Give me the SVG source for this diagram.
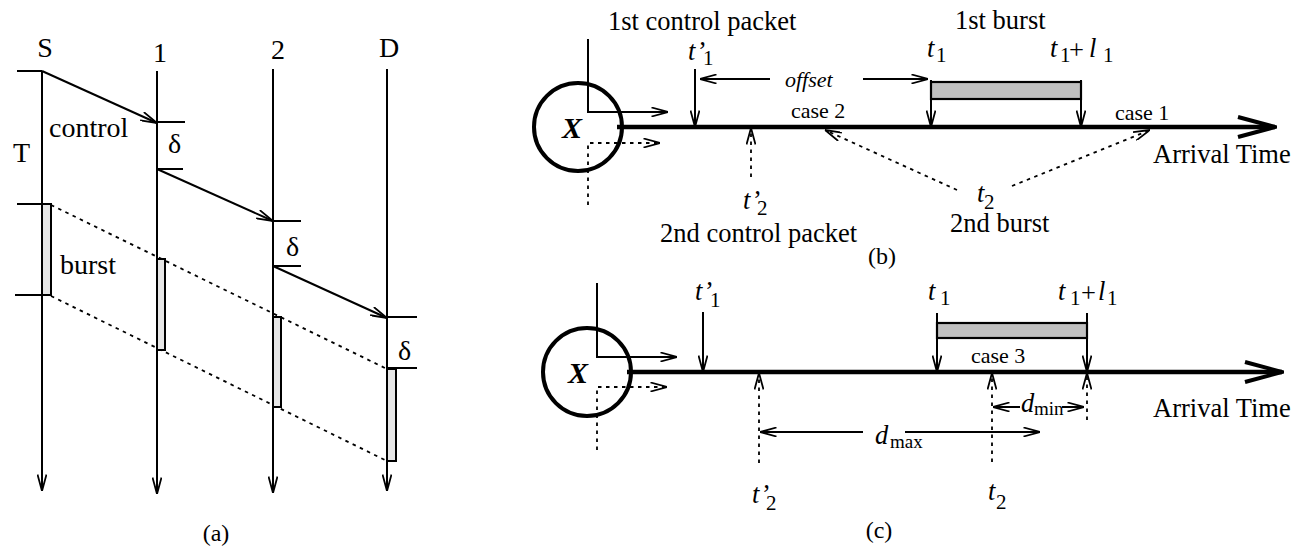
<svg xmlns="http://www.w3.org/2000/svg" width="1300" height="549" viewBox="0 0 1300 549">
<defs>
<style>
text{font-family:"Liberation Serif","Times New Roman",serif;fill:#000}
.a{font-size:28px}
.m{font-size:26.5px}
.s{font-size:22px}
.sub{font-size:21px}
.it{font-style:italic}
.ln{stroke:#000;stroke-width:2;fill:none}
.dot{stroke:#000;stroke-width:1.8;fill:none;stroke-dasharray:3.5 4.5}
.axis{stroke:#000;stroke-width:4.5;fill:none}
.node{stroke:#000;stroke-width:4;fill:none}
.ba{fill:#e6e6e6;stroke:#000;stroke-width:2}
.bb{fill:#c0c0c0;stroke:#000;stroke-width:2.2}
</style>
<marker id="arr" viewBox="0 0 17 10" refX="17" refY="5" markerWidth="17" markerHeight="10" markerUnits="userSpaceOnUse" orient="auto">
<path d="M0.5,0.5 L17,5 L0.5,9.5" fill="none" stroke="#000" stroke-width="1.8"/>
</marker>
<marker id="big" viewBox="0 0 40 24" refX="38" refY="12" markerWidth="40" markerHeight="24" markerUnits="userSpaceOnUse" orient="auto">
<path d="M1,2 L38,12 L1,22" fill="none" stroke="#000" stroke-width="4"/>
</marker>
</defs>

<!-- Part (a) -->
<g id="a-dotted">
<line class="dot" x1="51" y1="205" x2="387" y2="369"/>
<line class="dot" x1="51" y1="296" x2="387" y2="461"/>
</g>
<g id="node-S">
<text class="a" x="45" y="57" text-anchor="middle">S</text>
<line class="ln" x1="42" y1="71" x2="42" y2="491" marker-end="url(#arr)"/>
<line class="ln" x1="17" y1="71" x2="42" y2="71"/>
<line class="ln" x1="17" y1="204" x2="42" y2="204"/>
<line class="ln" x1="15" y1="295" x2="42" y2="295"/>
<rect class="ba" x="42" y="204" width="9" height="91"/>
</g>
<g id="node-1">
<text class="a" x="160" y="62" text-anchor="middle">1</text>
<line class="ln" x1="157" y1="71" x2="157" y2="494" marker-end="url(#arr)"/>
<line class="ln" x1="157" y1="122" x2="185" y2="122"/>
<line class="ln" x1="157" y1="169" x2="183" y2="169"/>
<rect class="ba" x="157" y="259" width="8" height="91"/>
</g>
<g id="node-2">
<text class="a" x="278" y="59" text-anchor="middle">2</text>
<line class="ln" x1="273" y1="69" x2="273" y2="493" marker-end="url(#arr)"/>
<line class="ln" x1="273" y1="221" x2="301" y2="221"/>
<line class="ln" x1="273" y1="266" x2="301" y2="266"/>
<rect class="ba" x="273" y="317" width="8" height="90"/>
</g>
<g id="node-D">
<text class="a" x="389" y="57" text-anchor="middle">D</text>
<line class="ln" x1="387" y1="69" x2="387" y2="491" marker-end="url(#arr)"/>
<line class="ln" x1="387" y1="317" x2="417" y2="317"/>
<line class="ln" x1="387" y1="368" x2="417" y2="368"/>
<rect class="ba" x="387" y="369" width="9" height="92"/>
</g>
<g id="a-connectors">
<line class="ln" x1="42" y1="71" x2="157" y2="123" marker-end="url(#arr)"/>
<line class="ln" x1="157" y1="169" x2="273" y2="221" marker-end="url(#arr)"/>
<line class="ln" x1="273" y1="266" x2="387" y2="318" marker-end="url(#arr)"/>
</g>
<g id="a-labels">
<text class="a" x="13" y="162">T</text>
<text class="a" x="49" y="137">control</text>
<text class="a" x="60" y="274">burst</text>
<text class="a" x="168" y="153">δ</text>
<text class="a" x="286" y="256">δ</text>
<text class="a" x="398" y="360">δ</text>
<text x="216" y="541" text-anchor="middle" style="font-size:24px">(a)</text>
</g>

<!-- Part (b) -->
<g id="b-node-X">
<circle class="node" cx="578" cy="127" r="44"/>
<text x="572" y="138" text-anchor="middle" style="font-size:30px;font-weight:bold;font-style:italic">X</text>
</g>
<g id="b-connectors">
<path class="ln" d="M588,39 V112 H668" marker-end="url(#arr)"/>
<path class="dot" d="M588,205 V143 H660" marker-end="url(#arr)"/>
<line class="axis" x1="617" y1="127" x2="1275" y2="127" marker-end="url(#big)"/>
<line class="ln" x1="695" y1="69" x2="695" y2="127" marker-end="url(#arr)"/>
<line class="ln" x1="770" y1="79" x2="700" y2="79" marker-end="url(#arr)"/>
<line class="ln" x1="863" y1="79" x2="928" y2="79" marker-end="url(#arr)"/>
<line class="dot" x1="751" y1="177" x2="751" y2="128" marker-end="url(#arr)"/>
<line class="dot" x1="957" y1="190" x2="825" y2="130" marker-end="url(#arr)"/>
<line class="dot" x1="1012" y1="186" x2="1150" y2="130" marker-end="url(#arr)"/>
<line class="ln" x1="931" y1="80" x2="931" y2="127" marker-end="url(#arr)"/>
<line class="ln" x1="1081" y1="80" x2="1081" y2="127" marker-end="url(#arr)"/>
</g>
<g id="b-burst1">
<rect class="bb" x="931" y="82" width="150" height="17"/>
</g>
<g id="b-labels">
<text class="m" x="608" y="30">1st control packet</text>
<text class="m" x="955" y="29">1st burst</text>
<text class="m" x="660" y="242">2nd control packet</text>
<text class="m" x="950" y="232">2nd burst</text>
<text class="m" x="1153" y="163">Arrival Time</text>
<text class="s it" x="785" y="87">offset</text>
<text class="s" x="791" y="118">case 2</text>
<text class="s" x="1115" y="120">case 1</text>
<text class="m"><tspan class="it" x="688" y="60">t</tspan><tspan x="698" y="60">’</tspan><tspan class="sub" x="703" y="65">1</tspan></text>
<text class="m"><tspan class="it" x="743" y="209">t</tspan><tspan x="753" y="209">’</tspan><tspan class="sub" x="757" y="215">2</tspan></text>
<text class="m"><tspan class="it" x="927" y="57">t</tspan><tspan class="sub" x="936" y="62">1</tspan></text>
<text class="m"><tspan class="it" x="1050" y="57">t</tspan><tspan class="sub" x="1060" y="62">1</tspan><tspan x="1069" y="59">+</tspan><tspan class="it" x="1089" y="57">l</tspan><tspan class="sub" x="1103" y="62">1</tspan></text>
<text class="m"><tspan class="it" x="977" y="202">t</tspan><tspan class="sub" x="984" y="209">2</tspan></text>
<text x="882" y="264" text-anchor="middle" style="font-size:24px">(b)</text>
</g>

<!-- Part (c) -->
<g id="c-node-X">
<circle class="node" cx="587" cy="372" r="44"/>
<text x="578" y="383" text-anchor="middle" style="font-size:30px;font-weight:bold;font-style:italic">X</text>
</g>
<g id="c-connectors">
<path class="ln" d="M597,283 V357 H677" marker-end="url(#arr)"/>
<path class="dot" d="M597,450 V387 H667" marker-end="url(#arr)"/>
<line class="axis" x1="627" y1="372" x2="1282" y2="372" marker-end="url(#big)"/>
<line class="ln" x1="703" y1="312" x2="703" y2="372" marker-end="url(#arr)"/>
<line class="dot" x1="759" y1="463" x2="759" y2="373" marker-end="url(#arr)"/>
<line class="ln" x1="863" y1="432" x2="760" y2="432" marker-end="url(#arr)"/>
<line class="ln" x1="905" y1="432" x2="1040" y2="432" marker-end="url(#arr)"/>
<line class="ln" x1="937" y1="313" x2="937" y2="372" marker-end="url(#arr)"/>
<line class="ln" x1="1087" y1="313" x2="1087" y2="372" marker-end="url(#arr)"/>
<line class="dot" x1="992" y1="462" x2="992" y2="373" marker-end="url(#arr)"/>
<line class="dot" x1="1087" y1="420" x2="1087" y2="373" marker-end="url(#arr)"/>
<line class="ln" x1="1020" y1="407" x2="993" y2="407" marker-end="url(#arr)"/>
<line class="ln" x1="1062" y1="407" x2="1084" y2="407" marker-end="url(#arr)"/>
</g>
<g id="c-burst1">
<rect class="bb" x="937" y="323" width="150" height="15"/>
</g>
<g id="c-labels">
<text class="m" x="1153" y="417">Arrival Time</text>
<text class="s" x="971" y="363">case 3</text>
<text class="m"><tspan class="it" x="695" y="300">t</tspan><tspan x="705" y="300">’</tspan><tspan class="sub" x="710" y="307">1</tspan></text>
<text class="m"><tspan class="it" x="752" y="503">t</tspan><tspan x="762" y="503">’</tspan><tspan class="sub" x="766" y="510">2</tspan></text>
<text class="m"><tspan class="it" x="928" y="300">t</tspan><tspan class="sub" x="940" y="305">1</tspan></text>
<text class="m"><tspan class="it" x="1058" y="300">t</tspan><tspan class="sub" x="1070" y="305">1</tspan><tspan x="1081" y="302">+</tspan><tspan class="it" x="1098" y="300">l</tspan><tspan class="sub" x="1107" y="305">1</tspan></text>
<text class="m"><tspan class="it" x="988" y="500">t</tspan><tspan class="sub" x="996" y="509">2</tspan></text>
<text class="m"><tspan class="it" x="875" y="444">d</tspan><tspan class="sub" x="890" y="448" style="font-size:19px">max</tspan></text>
<text class="m"><tspan class="it" x="1021" y="412">d</tspan><tspan class="sub" x="1034" y="415" style="font-size:19px">min</tspan></text>
<text x="879" y="538" text-anchor="middle" style="font-size:24px">(c)</text>
</g>
</svg>
